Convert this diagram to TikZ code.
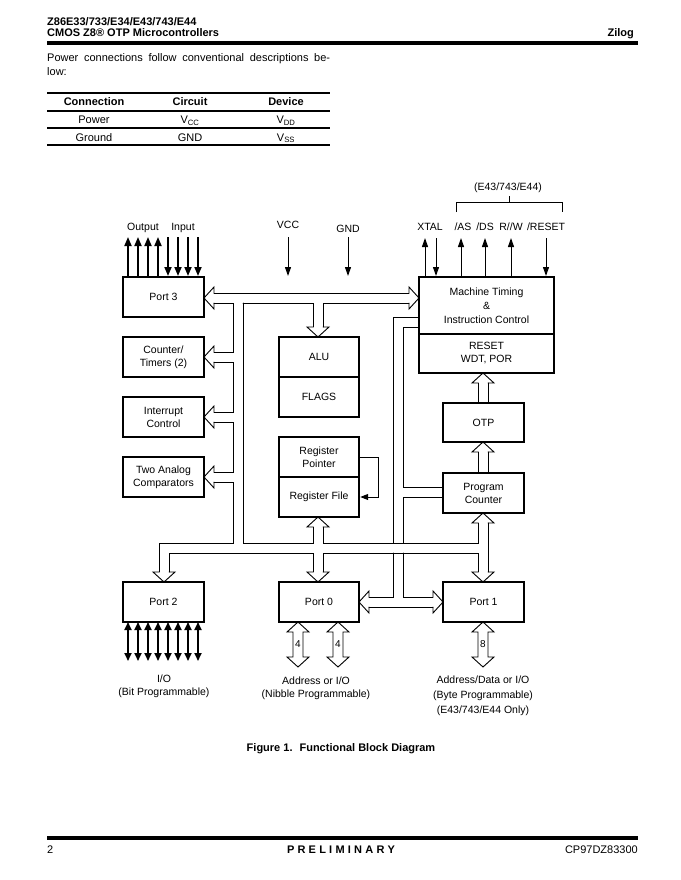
\documentclass[tikz,border=0pt]{standalone}
\usepackage{fontspec}
\setmainfont{Liberation Sans}
\usetikzlibrary{arrows.meta}
\newcommand\zhL[2]{\draw[bus] ({#1+10},{#2-5}) -- ({#1+10},{#2-11}) -- (#1,#2) -- ({#1+10},{#2+11}) -- ({#1+10},{#2+5});}
\newcommand\zhR[2]{\draw[bus] ({#1-10},{#2-5}) -- ({#1-10},{#2-11}) -- (#1,#2) -- ({#1-10},{#2+11}) -- ({#1-10},{#2+5});}
\newcommand\zhD[2]{\draw[bus] ({#1-5},{#2-10}) -- ({#1-11},{#2-10}) -- (#1,#2) -- ({#1+11},{#2-10}) -- ({#1+5},{#2-10});}
\newcommand\zhU[2]{\draw[bus] ({#1-5},{#2+10}) -- ({#1-11},{#2+10}) -- (#1,#2) -- ({#1+11},{#2+10}) -- ({#1+5},{#2+10});}
\newcommand\zdbl[2]{\draw[bus] ({#1-5},632) -- ({#1-11},632) -- (#1,622) -- ({#1+11},632) -- ({#1+5},632) -- ({#1+5},657) -- ({#1+11},657) -- (#1,667) -- ({#1-11},657) -- ({#1-5},657) -- cycle;
  \node[font=\fontsize{10}{12}\selectfont,inner sep=0] at (#1,644) {#2};}
\begin{document}
\begin{tikzpicture}[x=1pt,y=-1pt,
  bus/.style={line width=0.9pt,line cap=round,line join=miter},
  box/.style={draw,line width=2.4pt,minimum width=81pt,minimum height=40pt,inner sep=0pt,align=center,font=\fontsize{10.5}{13}\selectfont},
  lab/.style={inner sep=0pt,align=center,font=\fontsize{10.5}{13}\selectfont},
  sig/.style={line width=1pt,-{Triangle[length=9pt,width=6pt]}},
  io/.style={line width=1.8pt,-{Triangle[length=9pt,width=7pt]}},
  iob/.style={line width=1.8pt,{Triangle[length=8pt,width=7pt]}-{Triangle[length=8pt,width=7pt]}},
  body/.style={inner sep=0pt,font=\fontsize{11}{13}\selectfont},
  bodyb/.style={inner sep=0pt,font=\bfseries\fontsize{11}{13}\selectfont}]
\useasboundingbox[fill=white] (0,0) rectangle (680,880);

% header
\node[bodyb,anchor=base west] (h1) at (47,26) {Z86E33/733/E34/E43/743/E44};
\node[bodyb,anchor=base west] (h2) at (47,37) {CMOS Z8® OTP Microcontrollers};
\node[bodyb,anchor=base east] (h3) at (634,37) {Zilog};
\draw[line width=4pt] (47,43) -- (638,43);

% paragraph
\node[body,anchor=base west] (par1) at (47,62) {\makebox[283pt][s]{Power connections follow conventional descriptions be-}};
\node[body,anchor=base west] (par2) at (47,76) {low:};

% table
\draw[line width=1.2pt] (47,93) -- (330,93);
\draw[line width=1.2pt] (47,111) -- (330,111);
\draw[line width=1.2pt] (47,128) -- (330,128);
\draw[line width=1.2pt] (47,145) -- (330,145);
\node[bodyb,anchor=base] (t1) at (94,106) {Connection};
\node[bodyb,anchor=base] (t2) at (190,106) {Circuit};
\node[bodyb,anchor=base] (t3) at (286,106) {Device};
\node[body,anchor=base] (t4) at (94,124) {Power};
\node[body,anchor=base] (t5) at (190,124) {V\textsubscript{CC}};
\node[body,anchor=base] (t6) at (286,124) {V\textsubscript{DD}};
\node[body,anchor=base] (t7) at (94,141) {Ground};
\node[body,anchor=base] (t8) at (190,141) {GND};
\node[body,anchor=base] (t9) at (286,141) {V\textsubscript{SS}};

% boxes
\node[box] (p3) at (163.5,297) {Port 3};
\node[box] (ct) at (163.5,357) {Counter/\\Timers (2)};
\node[box] (ic) at (163.5,417) {Interrupt\\Control};
\node[box] (ac) at (163.5,477) {Two Analog\\Comparators};
\node[box] (p2) at (163.5,602) {Port 2};
\node[box,minimum width=80pt] (alu) at (319,357) {ALU};
\node[box,minimum width=80pt] (flg) at (319,397) {FLAGS};
\node[box,minimum width=80pt] (rp) at (319,457) {Register\\Pointer};
\node[box,minimum width=80pt] (rf) at (319,497) {Register File};
\node[box,minimum width=80pt] (p0) at (319,602) {Port 0};
\node[box] (p1) at (483.5,602) {Port 1};
\node[box,minimum width=135pt,minimum height=57pt,font=\fontsize{10.5}{14}\selectfont] (mt) at (486.5,305.5) {Machine Timing\\\&\\Instruction Control};
\node[box,minimum width=135pt,minimum height=39pt] (rst) at (486.5,353.5) {RESET\\WDT, POR};
\node[box,minimum height=39pt] (otp) at (483.5,422.5) {OTP};
\node[box] (pc) at (483.5,493) {Program\\Counter};

% port 3 signals
\node[lab,anchor=base] (out) at (143,230) {Output};
\node[lab,anchor=base] (inp) at (183,230) {Input};
\foreach \x in {128,138,148,158} \draw[io] (\x,276) -- (\x,237);
\foreach \x in {168,178,188,198} \draw[io] (\x,237) -- (\x,276);

% power
\node[lab,anchor=base] (vcc) at (288,228) {VCC};
\node[lab,anchor=base] (gnd) at (348,232) {GND};
\draw[sig] (288,237) -- (288,276);
\draw[sig] (348,237) -- (348,276);

% machine timing signals
\node[lab,anchor=base] (xtal) at (430,230) {XTAL};
\node[lab,anchor=base] (as) at (463,230) {/AS};
\node[lab,anchor=base] (ds) at (485,230) {/DS};
\node[lab,anchor=base] (rw) at (511,230) {R//W};
\node[lab,anchor=base] (rs) at (546,230) {/RESET};
\node[lab,anchor=base] (ver) at (508,190) {(E43/743/E44)};
\draw[line width=0.9pt] (456,212) -- (456,202) -- (562,202) -- (562,212);
\draw[line width=0.9pt] (509,202) -- (509,196);
\draw[sig] (425,276) -- (425,238);
\draw[sig] (436,238) -- (436,276);
\draw[sig] (461,276) -- (461,238);
\draw[sig] (485,276) -- (485,238);
\draw[sig] (511,276) -- (511,238);
\draw[sig] (546,238) -- (546,276);

% register pointer feedback
\draw[line width=0.9pt,-{Triangle[length=8pt,width=6pt]}] (rp.east) -- (378,457) -- (378,497) -- (rf.east);

% bus A (Port 3 <-> Machine Timing)
\zhL{204}{298}
\zhR{419}{298}
\draw[bus] (214,293) -- (409,293);
\draw[bus] (214,303) -- (233,303) -- (233,352) -- (214,352);
\zhL{204}{357}
\draw[bus] (214,362) -- (233,362) -- (233,412) -- (214,412);
\zhL{204}{417}
\draw[bus] (214,422) -- (233,422) -- (233,472) -- (214,472);
\zhL{204}{477}
\draw[bus] (214,482) -- (233,482) -- (233,543) -- (159,543) -- (159,572);
\zhD{164}{582}
\draw[bus] (243,303) -- (313,303) -- (313,327);
\zhD{318}{337}
\draw[bus] (323,327) -- (323,303) -- (409,303);
\draw[bus] (243,303) -- (243,543) -- (313,543) -- (313,527);
\zhU{318}{517}
\draw[bus] (323,527) -- (323,543) -- (478,543) -- (478,523);
\zhU{483}{513}
\draw[bus] (488,523) -- (488,572);
\zhD{483}{582}
\draw[bus] (169,572) -- (169,553) -- (313,553) -- (313,572);
\zhD{318}{582}
\draw[bus] (323,572) -- (323,553) -- (478,553) -- (478,572);

% machine timing vertical bus
\draw[bus] (419,317) -- (393,317) -- (393,543);
\draw[bus] (419,327) -- (403,327) -- (403,487) -- (443,487);
\draw[bus] (443,497) -- (403,497) -- (403,543);
\draw[bus] (393,553) -- (393,597) -- (369,597);
\zhL{359}{602}
\draw[bus] (369,607) -- (433,607);
\zhR{443}{602}
\draw[bus] (403,553) -- (403,597) -- (433,597);

% right column
\draw[bus] (478,403) -- (478,383);
\draw[bus] (488,403) -- (488,383);
\zhU{483}{373}
\draw[bus] (478,473) -- (478,452);
\draw[bus] (488,473) -- (488,452);
\zhU{483}{442}

% port 2 I/O
\foreach \x in {128,138,148,158,168,178,188,198} \draw[iob] (\x,622) -- (\x,661);
\node[lab] (l2) at (164,686) {I/O\\(Bit Programmable)};

% port 0 / port 1 outputs
\zdbl{298}{4}
\zdbl{338}{4}
\zdbl{483}{8}
\node[lab] (l0) at (316,688) {Address or I/O\\(Nibble Programmable)};
\node[lab,font=\fontsize{10.5}{15}\selectfont] (l1) at (483,696) {Address/Data or I/O\\(Byte Programmable)\\(E43/743/E44 Only)};

% caption
\node[bodyb] (cap) at (341,749) {Figure 1.\hspace{7pt}Functional Block Diagram};

% footer
\draw[line width=4pt] (47,838) -- (638,838);
\node[body,anchor=base west] (f1) at (47,853) {2};
\node[bodyb,anchor=base] (f2) at (341,853) {\makebox[108pt][s]{P R E L I M I N A R Y}};
\node[body,anchor=base east] (f3) at (638,853) {CP97DZ83300};
\end{tikzpicture}
\end{document}
